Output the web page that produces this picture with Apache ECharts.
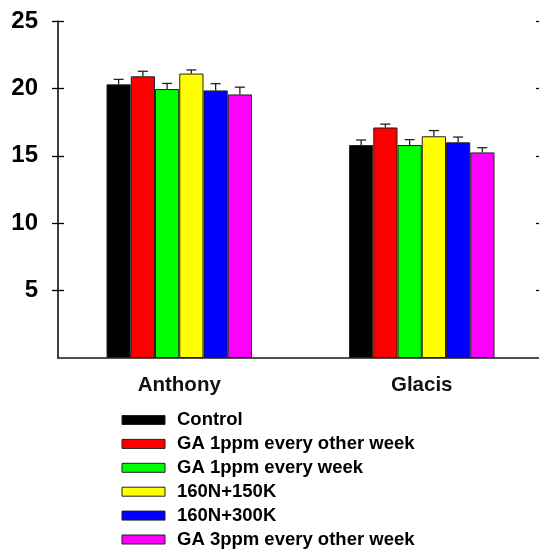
<!DOCTYPE html>
<html>
<head>
<meta charset="utf-8">
<script src="https://cdn.jsdelivr.net/npm/echarts@6/dist/echarts.min.js"></script>
<style>
  html, body { margin: 0; padding: 0; background: #fff; overflow: hidden; }
  /* the plot frame runs a few pixels past the right edge of the picture */
  #chart { width: 546px; height: 550px; }
</style>
</head>
<body>
<div id="chart"></div>
<script>
// data
var cultivars = ["Anthony", "Glacis"];
var treatments = [
  "Control",
  "GA 1ppm every other week",
  "GA 1ppm every week",
  "160N+150K",
  "160N+300K",
  "GA 3ppm every other week"
];
var colors = ["#000000", "#ff0000", "#00ff00", "#ffff00", "#0000ff", "#ff00ff"];
// one array per treatment: [Anthony, Glacis]
var control = [20.3, 15.8];
var ga1Other = [20.9, 17.1];
var ga1Week = [19.95, 15.8];
var n150k = [21.1, 16.45];
var n300k = [19.85, 16.0];
var ga3Other = [19.55, 15.25];
// error bar sizes (upper)
var controlErr = [0.37, 0.37];
var ga1OtherErr = [0.37, 0.25];
var ga1WeekErr = [0.42, 0.4];
var n150kErr = [0.27, 0.42];
var n300kErr = [0.5, 0.39];
var ga3OtherErr = [0.54, 0.35];
var yTicks = [5, 10, 15, 20, 25];

var values = [control, ga1Other, ga1Week, n150k, n300k, ga3Other];
var errors = [controlErr, ga1OtherErr, ga1WeekErr, n150kErr, n300kErr, ga3OtherErr];

var font = "'Liberation Sans', Arial, sans-serif";
var groupShare = 0.6; // 1 - barCategoryGap

var series = [];
treatments.forEach(function (name, i) {
  series.push({
    name: name,
    type: "bar",
    data: values[i],
    barGap: 0,
    barCategoryGap: "40%",
    itemStyle: { color: colors[i], borderColor: "#222", borderWidth: 1 },
    z: 2
  });
});
treatments.forEach(function (name, i) {
  series.push({
    type: "custom",
    name: "err" + i,
    data: values[i].map(function (v, k) { return [k, v, errors[i][k]]; }),
    z: 3,
    silent: true,
    renderItem: function (params, api) {
      var cat = api.value(0);
      var top = api.coord([cat, api.value(1) + api.value(2)]);
      var base = api.coord([cat, api.value(1)]);
      var bw = api.size([1, 0])[0] * groupShare / treatments.length;
      var x = base[0] + (i - (treatments.length - 1) / 2) * bw;
      var half = 5;
      var st = { stroke: "#222", lineWidth: 1.3 };
      return {
        type: "group",
        children: [
          { type: "line", shape: { x1: x, y1: base[1], x2: x, y2: top[1] }, style: st },
          { type: "line", shape: { x1: x - half, y1: top[1], x2: x + half, y2: top[1] }, style: st }
        ]
      };
    }
  });
});

var yBase = {
  type: "value",
  min: 0,
  max: 25,
  interval: 5,
  splitLine: { show: false }
};

var option = {
  backgroundColor: "#fff",
  animation: false,
  grid: { left: 58, top: 21, right: 3, bottom: 192, containLabel: false },
  legend: {
    data: treatments,
    orient: "vertical",
    left: 116.5,
    top: 405.5,
    height: 160,
    itemWidth: 43,
    itemHeight: 9,
    itemGap: 4.9,
    icon: "rect",
    itemStyle: { borderColor: "#222", borderWidth: 1 },
    textStyle: {
      fontFamily: font, fontSize: 18.5, fontWeight: "bold", color: "#000",
      lineHeight: 18, padding: [0, 0, 0, 7]
    }
  },
  xAxis: [
    {
      type: "category",
      data: cultivars,
      axisLine: { lineStyle: { color: "#000", width: 1.5 } },
      axisTick: { show: false },
      axisLabel: { fontFamily: font, fontSize: 20.5, fontWeight: "bold", color: "#111", margin: 17 }
    },
    {
      type: "category",
      data: cultivars,
      position: "top",
      axisLine: { lineStyle: { color: "#555", width: 1.5 } },
      axisTick: { show: false },
      axisLabel: { show: false }
    }
  ],
  yAxis: [
    Object.assign({}, yBase, {
      position: "left",
      axisLine: { show: true, lineStyle: { color: "#000", width: 1.5 } },
      axisTick: { show: true, length: 6, customValues: yTicks, lineStyle: { color: "#000", width: 1.3 } },
      axisLabel: {
        fontFamily: font, fontSize: 24, fontWeight: "bold", color: "#000", margin: 20,
        customValues: yTicks
      }
    }),
    Object.assign({}, yBase, {
      position: "left",
      axisLine: { show: false },
      axisTick: { show: true, inside: true, length: 6, customValues: yTicks, lineStyle: { color: "#000", width: 1.3 } },
      axisLabel: { show: false }
    }),
    Object.assign({}, yBase, {
      position: "right",
      axisLine: { show: true, lineStyle: { color: "#000", width: 1.5 } },
      axisTick: { show: true, inside: true, length: 7, customValues: yTicks, lineStyle: { color: "#000", width: 1.3 } },
      axisLabel: { show: false }
    })
  ],
  series: series
};

var myChart = echarts.init(document.getElementById("chart"));
myChart.setOption(option);
</script>
</body>
</html>
